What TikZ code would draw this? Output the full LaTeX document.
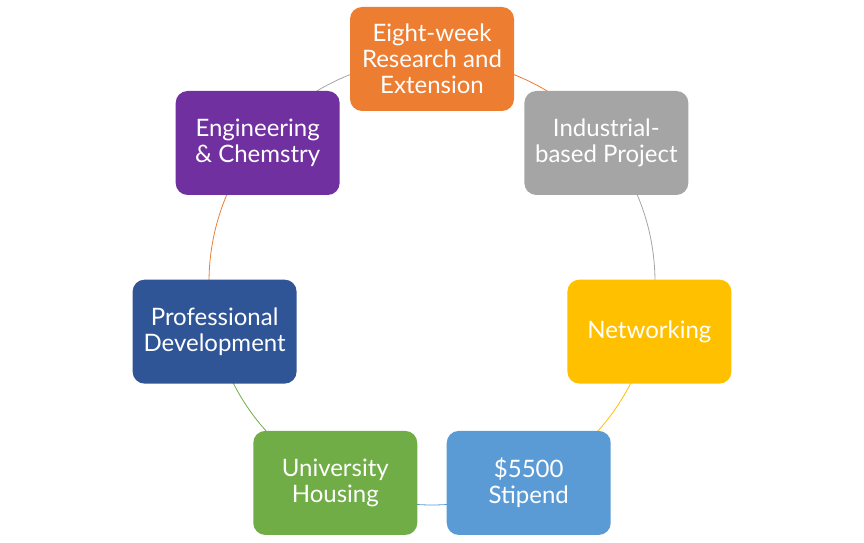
\documentclass[tikz,border=0pt]{standalone}
\usepackage{fontspec}
\setmainfont{Lato}
\usetikzlibrary{backgrounds}
\definecolor{cOrange}{HTML}{ED7D31}
\definecolor{cGray}{HTML}{A5A5A5}
\definecolor{cYellow}{HTML}{FFC000}
\definecolor{cBlue}{HTML}{5B9BD5}
\definecolor{cGreen}{HTML}{70AD47}
\definecolor{cDark}{HTML}{2F5597}
\definecolor{cPurple}{HTML}{7030A0}
\begin{document}
\begin{tikzpicture}[x=1pt,y=1pt,
  box/.style={rounded corners=12pt, minimum width=164pt, minimum height=104pt,
    text=white, align=center, font=\fontsize{24}{26}\selectfont, inner sep=0pt},
  link/.style={line width=0.8pt}]
\useasboundingbox (0,0) rectangle (864,542);
\coordinate (c) at (432,260);
\node[box, fill=cOrange] (n1) at ([shift={(90:223)}]c) {Eight-week\\Research and\\Extension};
\node[box, fill=cGray] (n2) at ([shift={(38.57:223)}]c) {Industrial-\\based Project};
\node[box, fill=cYellow] (n3) at ([shift={(-12.86:223)}]c) {Networking};
\node[box, fill=cBlue] (n4) at ([shift={(-64.29:223)}]c) {\$5500\\Stipend};
\node[box, fill=cGreen] (n5) at ([shift={(-115.71:223)}]c) {University\\Housing};
\node[box, fill=cDark] (n6) at ([shift={(-167.14:223)}]c) {Professional\\Development};
\node[box, fill=cPurple] (n7) at ([shift={(141.43:223)}]c) {Engineering\\\& Chemstry};
\begin{scope}[on background layer]
\draw[link, cOrange] (n1.center) arc[start angle=90, end angle=38.57, radius=223];
\draw[link, cGray] (n2.center) arc[start angle=38.57, end angle=-12.86, radius=223];
\draw[link, cYellow] (n3.center) arc[start angle=-12.86, end angle=-64.29, radius=223];
\draw[link, cBlue] (n4.center) arc[start angle=-64.29, end angle=-115.71, radius=223];
\draw[link, cGreen] (n5.center) arc[start angle=-115.71, end angle=-167.14, radius=223];
\draw[link, cOrange] (n6.center) arc[start angle=-167.14, end angle=-218.57, radius=223];
\draw[link, cGray] (n7.center) arc[start angle=141.43, end angle=90, radius=223];
\end{scope}
\end{tikzpicture}
\end{document}
